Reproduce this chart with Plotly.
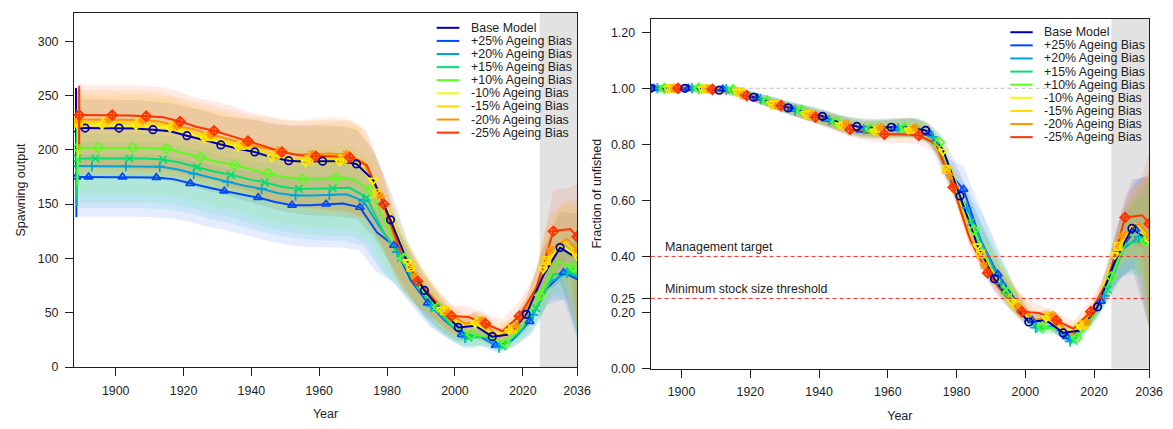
import plotly.graph_objects as go

# model runs (legend order)
models = ["Base Model", "+25% Ageing Bias", "+20% Ageing Bias", "+15% Ageing Bias",
          "+10% Ageing Bias", "-10% Ageing Bias", "-15% Ageing Bias",
          "-20% Ageing Bias", "-25% Ageing Bias"]
colors = ["#0000A6", "#0049FB", "#00A4DB", "#03E06E", "#5DFC20",
          "#F6F905", "#FFD701", "#FF9400", "#FF3300"]
symbols = ["circle-open", "triangle-up-open", "cross-thin-open", "x-thin-open",
           "diamond-open", "triangle-down-open", "square-x-open",
           "asterisk-open", "diamond-cross-open"]

# spawning output, one value per model year (1889, then every 5 yrs from 1891+k, then 2036)
ssb_base = [220, 220, 220, 220, 219.5, 218.5, 217, 213, 209, 204.5, 201, 198, 193, 190, 189, 189.5,
            189.5, 187, 172, 135.5, 97, 70.5, 52, 36.5, 38, 28, 30, 48.5, 84, 110, 100]
ssb_p25 = [175, 175, 175, 175, 175, 174.5, 173, 169, 165.5, 162, 159, 156, 152, 149, 149, 150,
           150.5, 147, 124, 112, 80, 59, 43, 30, 29, 20, 25, 42, 72, 87, 81]
ssb_p20 = [185, 185, 185, 185, 185, 184.5, 182, 178, 174.5, 170.5, 167, 164, 160, 158, 158, 158.5,
           159, 153, 128, 106, 80, 56, 42, 27, 28, 18, 28, 48, 78, 87, 83]
ssb_p15 = [192, 192, 192, 192, 192, 191, 188, 184, 180, 177, 173, 170, 166, 164, 164, 164.5,
           165, 156, 124, 100, 73, 54, 38, 27, 28, 19, 33, 54, 85, 88, 85]
ssb_p10 = [202, 202, 202, 202, 201.5, 201, 197, 193, 189, 186, 182, 178, 175, 173, 173, 174,
           173, 163, 130, 100, 72, 55, 37, 30, 28, 22, 38, 66, 97, 92, 91]
ssb_m10 = [222.5, 222.5, 222.5, 222, 221.5, 220, 215.5, 210.5, 206.5, 202.5, 199, 193, 190, 188, 189,
           189, 189, 172, 140, 97, 74, 53, 40, 40, 30, 33, 52, 90, 113, 102]
ssb_m15 = [225, 225, 225, 224.5, 224, 222, 217, 212, 208, 204, 201, 195, 192, 191, 191.5,
           192, 189, 160, 125, 92, 70, 52, 38, 42, 27, 35, 58, 98, 116, 105]
ssb_m20 = [228, 228, 228, 227.5, 226, 222, 219, 214, 210, 206, 202, 199, 196, 196, 196.5,
           196, 189, 157, 112, 84, 66, 50, 40, 43, 27, 38, 65, 108, 118, 108]
ssb_m25 = [232, 232, 231.5, 231, 230, 226, 221, 217.5, 213, 208, 203, 198, 195, 194, 194,
           193, 186, 150, 106, 79, 61, 47, 46, 40, 33, 47, 73, 125, 127, 120]
ssb_virgin_err = [37, 37, 37, 36, 35, 30, 29, 28, 27]

# fraction of unfished, same years
frac_base = [1.0, 1.0, 1.0, 1.0, 0.998, 0.993, 0.986, 0.968, 0.95, 0.93, 0.914, 0.9, 0.877, 0.864, 0.859, 0.861,
             0.861, 0.85, 0.782, 0.616, 0.441, 0.32, 0.236, 0.166, 0.173, 0.127, 0.136, 0.22, 0.382, 0.5, 0.455]
frac_p25 = [1.0, 1.0, 1.0, 1.0, 1.0, 0.997, 0.989, 0.966, 0.946, 0.926, 0.909, 0.891, 0.869, 0.851, 0.851, 0.857,
            0.86, 0.84, 0.709, 0.64, 0.457, 0.337, 0.246, 0.171, 0.166, 0.114, 0.143, 0.24, 0.411, 0.497, 0.463]
frac_p20 = [1.0, 1.0, 1.0, 1.0, 1.0, 0.997, 0.984, 0.962, 0.943, 0.922, 0.903, 0.886, 0.865, 0.854, 0.854, 0.857,
            0.859, 0.827, 0.692, 0.573, 0.432, 0.303, 0.227, 0.146, 0.151, 0.097, 0.151, 0.259, 0.422, 0.47, 0.449]
frac_p15 = [1.0, 1.0, 1.0, 1.0, 1.0, 0.995, 0.979, 0.958, 0.938, 0.922, 0.901, 0.885, 0.865, 0.854, 0.854, 0.857,
            0.859, 0.813, 0.646, 0.521, 0.38, 0.281, 0.198, 0.141, 0.146, 0.099, 0.172, 0.281, 0.443, 0.458, 0.443]
frac_p10 = [1.0, 1.0, 1.0, 1.0, 0.998, 0.995, 0.975, 0.955, 0.936, 0.921, 0.901, 0.881, 0.866, 0.856, 0.856, 0.861,
            0.856, 0.807, 0.644, 0.495, 0.356, 0.272, 0.183, 0.149, 0.139, 0.109, 0.188, 0.327, 0.48, 0.455, 0.45]
frac_m10 = [1.0, 1.0, 1.0, 0.998, 0.995, 0.989, 0.968, 0.946, 0.928, 0.91, 0.896, 0.869, 0.856, 0.847, 0.851,
            0.851, 0.851, 0.775, 0.631, 0.437, 0.333, 0.239, 0.18, 0.18, 0.135, 0.149, 0.234, 0.405, 0.509, 0.459]
frac_m15 = [1.0, 1.0, 1.0, 0.998, 0.996, 0.987, 0.964, 0.942, 0.924, 0.907, 0.893, 0.867, 0.853, 0.849, 0.851,
            0.853, 0.84, 0.711, 0.556, 0.409, 0.311, 0.231, 0.169, 0.187, 0.12, 0.156, 0.258, 0.436, 0.516, 0.467]
frac_m20 = [1.0, 1.0, 1.0, 0.998, 0.991, 0.974, 0.961, 0.939, 0.921, 0.904, 0.886, 0.873, 0.86, 0.86, 0.862,
            0.86, 0.829, 0.689, 0.491, 0.368, 0.289, 0.219, 0.175, 0.189, 0.118, 0.167, 0.285, 0.474, 0.518, 0.474]
frac_m25 = [1.0, 1.0, 0.998, 0.996, 0.991, 0.974, 0.953, 0.938, 0.918, 0.897, 0.875, 0.853, 0.841, 0.836, 0.836,
            0.832, 0.802, 0.647, 0.457, 0.341, 0.263, 0.203, 0.198, 0.172, 0.142, 0.203, 0.315, 0.539, 0.547, 0.517]

# relative width of the 95% intervals, by point index
ssb_hi_w = [0.12, 0.12, 0.12, 0.12, 0.12, 0.12, 0.12, 0.125, 0.13, 0.13, 0.14, 0.15, 0.16, 0.17, 0.175, 0.175,
            0.17, 0.17, 0.16, 0.2, 0.2, 0.2, 0.21, 0.22, 0.33, 0.29, 0.2, 0.3, 0.3, 0.3, 0.41]
ssb_lo_w = [0.21, 0.21, 0.21, 0.21, 0.21, 0.21, 0.21, 0.21, 0.22, 0.22, 0.23, 0.24, 0.245, 0.25, 0.26, 0.265,
            0.27, 0.27, 0.3, 0.3, 0.28, 0.34, 0.36, 0.37, 0.3, 0.28, 0.3, 0.32, 0.2, 0.29, 0.68]
frac_hi_w = [0.012, 0.012, 0.012, 0.012, 0.013, 0.014, 0.015, 0.018, 0.022, 0.025, 0.028, 0.03, 0.033, 0.035, 0.037, 0.038,
             0.04, 0.04, 0.06, 0.13, 0.25, 0.28, 0.15, 0.15, 0.2, 0.2, 0.15, 0.15, 0.25, 0.35, 0.5]
frac_lo_w = [0.012, 0.012, 0.012, 0.012, 0.013, 0.014, 0.015, 0.018, 0.022, 0.025, 0.028, 0.03, 0.033, 0.035, 0.037, 0.038,
             0.04, 0.04, 0.06, 0.08, 0.12, 0.15, 0.14, 0.14, 0.15, 0.17, 0.15, 0.15, 0.22, 0.28, 0.68]

ssb = [ssb_base, ssb_p25, ssb_p20, ssb_p15, ssb_p10, ssb_m10, ssb_m15, ssb_m20, ssb_m25]
frac = [frac_base, frac_p25, frac_p20, frac_p15, frac_p10, frac_m10, frac_m15, frac_m20, frac_m25]

year_ticks = [1900, 1920, 1940, 1960, 1980, 2000, 2020, 2036]
ssb_ticks = [0, 50, 100, 150, 200, 250, 300]
frac_ticks = [0.0, 0.2, 0.25, 0.4, 0.6, 0.8, 1.0, 1.2]
forecast_start = 2025
FONT = "Liberation Sans, Arial, sans-serif"
INK = "#1e1e1e"


def model_years(k):
    # points are staggered one year per model so the symbols do not overlap
    yrs = [1889] + list(range(1891 + k, 2037, 5))
    if yrs[-1] != 2036:
        yrs.append(2036)
    return yrs


def rgba(hex_col, a):
    h = hex_col.lstrip("#")
    return "rgba(%d,%d,%d,%s)" % (int(h[0:2], 16), int(h[2:4], 16), int(h[4:6], 16), a)


def widths(w, n):
    return w[:n - 1] + w[-1:]


fig = go.Figure()

panels = [(ssb, ssb_hi_w, ssb_lo_w, "x", "y"), (frac, frac_hi_w, frac_lo_w, "x2", "y2")]
draw_order = [1, 2, 3, 4, 5, 6, 7, 8, 0]  # base model on top

# shaded intervals first
for data, hi_w, lo_w, xa, ya in panels:
    for k, vals in enumerate(data):
        yrs = model_years(k)
        assert len(yrs) == len(vals), (models[k], len(yrs), len(vals))
        hi = widths(hi_w, len(vals))
        lo = widths(lo_w, len(vals))
        upper = [v * (1 + h) for v, h in zip(vals, hi)]
        lower = [v * (1 - l) for v, l in zip(vals, lo)]
        fig.add_trace(go.Scatter(x=yrs + yrs[::-1], y=upper + lower[::-1], fill="toself",
                                 fillcolor=rgba(colors[k], 0.1), line=dict(width=0),
                                 mode="lines", hoverinfo="skip", showlegend=False,
                                 xaxis=xa, yaxis=ya))

# lines
for data, hi_w, lo_w, xa, ya in panels:
    for k in draw_order:
        fig.add_trace(go.Scatter(x=model_years(k), y=data[k], mode="lines", name=models[k],
                                 line=dict(color=colors[k], width=2), showlegend=False,
                                 xaxis=xa, yaxis=ya))

# symbols every 10 years
for data, hi_w, lo_w, xa, ya in panels:
    for k in draw_order:
        yrs = model_years(k)
        vals = data[k]
        fig.add_trace(go.Scatter(x=yrs[1::2], y=vals[1::2], mode="markers", showlegend=False,
                                 marker=dict(symbol=symbols[k], size=7.5, color=colors[k],
                                             line=dict(width=1.7, color=colors[k])),
                                 xaxis=xa, yaxis=ya))

# virgin spawning output with intervals
for k, vals in enumerate(ssb):
    fig.add_trace(go.Scatter(x=[1888.3 + 0.12 * k], y=[vals[0]], mode="markers", showlegend=False,
                             marker=dict(symbol=symbols[k], size=7.5, color=colors[k],
                                         line=dict(width=1.7, color=colors[k])),
                             error_y=dict(type="data", array=[ssb_virgin_err[k]], width=0,
                                          thickness=2, color=colors[k]),
                             xaxis="x", yaxis="y"))

shapes = []
annotations = []
for xa, ya in [("x", "y"), ("x2", "y2")]:
    shapes.append(dict(type="rect", xref=xa, yref=ya + " domain", x0=forecast_start, x1=2036,
                       y0=0, y1=1, fillcolor="#E2E2E2", line=dict(width=0), layer="below"))

# reference lines on the fraction panel
shapes.append(dict(type="line", xref="x2 domain", yref="y2", x0=0, x1=1, y0=1.0, y1=1.0,
                   line=dict(color="#BDBDBD", width=1, dash="4px,3px"), layer="below"))
for lvl, txt in [(0.40, "Management target"), (0.25, "Minimum stock size threshold")]:
    shapes.append(dict(type="line", xref="x2 domain", yref="y2", x0=0, x1=1, y0=lvl, y1=lvl,
                       line=dict(color="#FF2A2A", width=1, dash="4px,3px"), layer="above"))
    annotations.append(dict(text=txt, xref="x2", yref="y2", x=1894.6, y=lvl, xanchor="left",
                            yanchor="bottom", yshift=0, showarrow=False,
                            font=dict(family=FONT, size=12.4, color=INK)))

# legends drawn by hand (R style: short line, no symbol)
for xa, ya, top, step, lx0, lx1, tx in [("x", "y", 0.958, 0.037, 0.721, 0.766, 0.7855),
                                        ("x2", "y2", 0.9616, 0.0375, 0.7216, 0.7665, 0.786)]:
    for k, name in enumerate(models):
        yy = top - k * step
        shapes.append(dict(type="line", xref=xa + " domain", yref=ya + " domain",
                           x0=lx0, x1=lx1, y0=yy, y1=yy,
                           line=dict(color=colors[k], width=2), layer="above"))
        annotations.append(dict(text=name, xref=xa + " domain", yref=ya + " domain",
                                x=tx, y=yy, xanchor="left", yanchor="middle", showarrow=False,
                                font=dict(family=FONT, size=12.4, color=INK)))

axis_style = dict(showline=True, mirror=True, linecolor=INK, linewidth=1, ticks="outside",
                  ticklen=8, tickcolor=INK, tickwidth=1, showgrid=False, zeroline=False,
                  tickfont=dict(family=FONT, size=12.4, color=INK), ticklabelstandoff=4)

fig.update_layout(
    width=1173, height=429,
    margin=dict(l=0, r=0, t=0, b=0),
    paper_bgcolor="white", plot_bgcolor="white",
    font=dict(family=FONT, size=12, color=INK),
    showlegend=False,
    xaxis=dict(axis_style, domain=[0.0569, 0.491], range=[1887.7, 2036], anchor="y",
               tickvals=year_ticks, title=dict(text="Year", standoff=12,
                                               font=dict(family=FONT, size=12.5, color=INK))),
    yaxis=dict(axis_style, domain=[0.1492, 0.9883], range=[0, 326], anchor="x",
               tickvals=ssb_ticks, title=dict(text="Spawning output", standoff=9,
                                              font=dict(family=FONT, size=12.5, color=INK))),
    xaxis2=dict(axis_style, domain=[0.5544, 0.9846], range=[1891, 2036], anchor="y2",
                tickvals=year_ticks, title=dict(text="Year", standoff=12,
                                                font=dict(family=FONT, size=12.5, color=INK))),
    yaxis2=dict(axis_style, domain=[0.1457, 0.9744], range=[0, 1.248], anchor="x2",
                tickvals=frac_ticks, ticktext=["%.2f" % t for t in frac_ticks],
                title=dict(text="Fraction of unfished", standoff=6,
                           font=dict(family=FONT, size=12.5, color=INK))),
    shapes=shapes,
    annotations=annotations,
)

fig.write_html("out.html")
